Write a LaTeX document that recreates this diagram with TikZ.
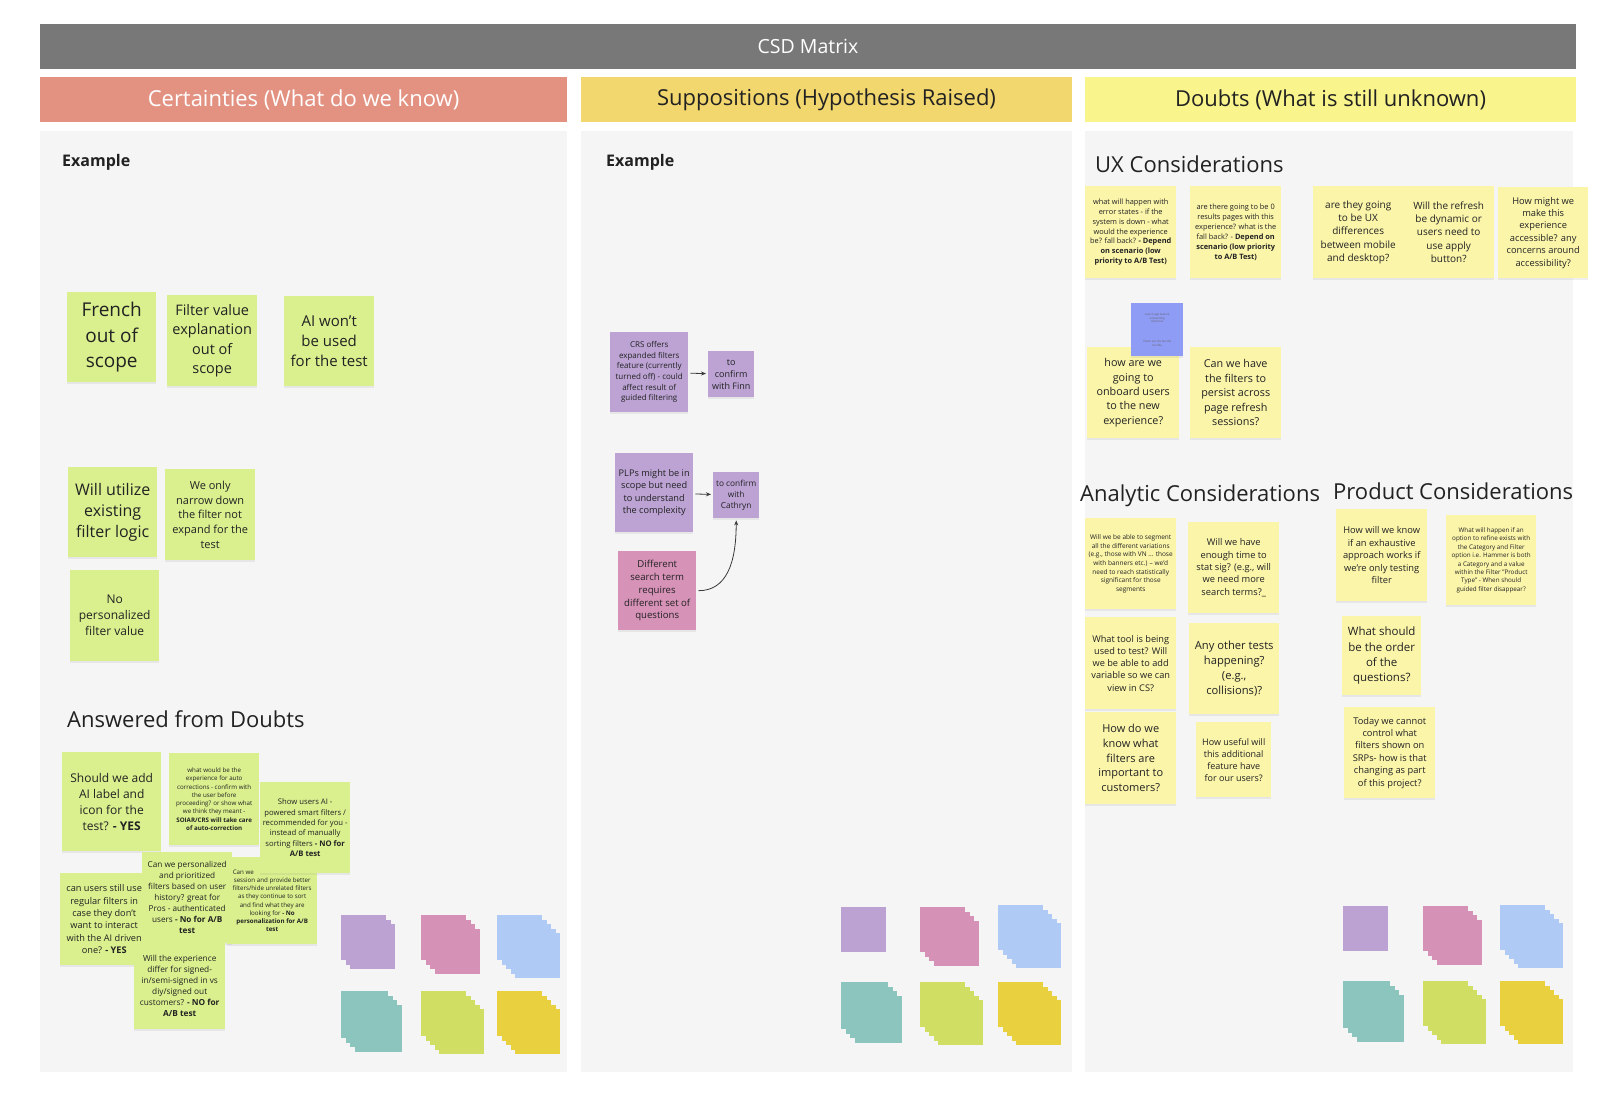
\documentclass[tikz,border=0pt]{standalone}
\usepackage{fontspec}
\setmainfont{Open Sans}
\usetikzlibrary{arrows.meta,shadows}

\definecolor{ink}{RGB}{34,34,34}
\definecolor{barc}{RGB}{120,120,120}
\definecolor{certc}{RGB}{227,146,130}
\definecolor{suppc}{RGB}{242,214,110}
\definecolor{doubc}{RGB}{249,244,140}
\definecolor{panelc}{RGB}{245,245,245}
\definecolor{greenn}{RGB}{218,240,142}
\definecolor{yellown}{RGB}{251,245,170}
\definecolor{purplen}{RGB}{188,163,212}
\definecolor{pinkn}{RGB}{214,146,183}
\definecolor{bluen}{RGB}{143,156,245}
\definecolor{padpurple}{RGB}{187,162,210}
\definecolor{padpink}{RGB}{213,146,182}
\definecolor{padblue}{RGB}{174,202,245}
\definecolor{padteal}{RGB}{140,196,190}
\definecolor{padgreen}{RGB}{208,223,100}
\definecolor{padyellow}{RGB}{233,208,62}

\newcommand\fsz[1]{\fontsize{#1pt}{\dimexpr#1pt*4/3\relax}\selectfont}
% stack of sticky notes: x, y, size, layers, colour
\newcommand\stickypad[5]{%
    \foreach \k in {1,...,#4}
        \fill[#5] ({#1+(\k-1)*4.5},{#2+(\k-1)*4.5}) rectangle +(#3,#3);}

\begin{document}
\begin{tikzpicture}[
    x=1pt, y=-1pt,
    bar/.style={
        fill=barc,
        text=white,
        minimum width=1536pt,
        minimum height=45pt,
        font=\fsz{19.5}
    },
    head/.style={
        minimum height=45pt,
        text=ink,
        font=\fsz{22}
    },
    lbl/.style={anchor=west, inner sep=0pt, text=ink, font=\fsz{22}},
    note/.style={
        anchor=north west,
        align=center,
        inner sep=2pt,
        text=ink,
        drop shadow={shadow xshift=0pt, shadow yshift=-1.5pt, opacity=.12}
    },
    sz/.style 2 args={minimum width=#1pt, minimum height=#2pt},
    gnote/.style={note, fill=greenn},
    ynote/.style={note, fill=yellown},
    pnote/.style={note, fill=purplen},
    knote/.style={note, fill=pinkn},
    arr/.style={-{Stealth[length=5pt,width=4pt]}, line width=0.8pt, draw=ink!90,
        shorten <=2pt, shorten >=2pt}
]
    \fill[white] (0,0) rectangle (1616,1100);
    \useasboundingbox (0,0) rectangle (1616,1100);

    % frame
    \node[bar] (title) at (808,46.5) {CSD Matrix};
    \node[head, fill=certc, text=white, minimum width=527pt] (cert) at (303.5,99.5) {Certainties (What do we know)};
    \node[head, fill=suppc, minimum width=491pt] (supp) at (826.5,99.5) {Suppositions (Hypothesis Raised)};
    \node[head, fill=doubc, minimum width=491pt] (doub) at (1330.5,99.5) {Doubts (What is still unknown)};
    \fill[panelc] (40,131) rectangle (567,1072);
    \fill[panelc] (581,131) rectangle (1072,1072);
    \fill[panelc] (1085,131) rectangle (1573,1072);

    % certainties
    \node[lbl, font=\bfseries\fsz{16}] (exleft) at (62,162) {Example};
    \node[gnote, sz={89}{90}, font=\fsz{19}] (french) at (67,292) {French\\out of\\scope};
    \node[gnote, sz={90}{91}, font=\fsz{14.5}] (filterval) at (167,295) {Filter value\\explanation\\out of\\scope};
    \node[gnote, sz={90}{90}, font=\fsz{15}] (aiwont) at (284,296) {AI won't\\be used\\for the test};
    \node[gnote, sz={89}{90}, font=\fsz{16}] (utilize) at (68,467) {Will utilize\\existing\\filter logic};
    \node[gnote, sz={90}{91}, font=\fsz{11}] (narrow) at (165,469) {We only\\narrow down\\the filter not\\expand for the\\test};
    \node[gnote, sz={89}{91}, font=\fsz{12}] (nopers) at (70,570) {No\\personalized\\filter value};

    \node[lbl] (answered) at (67,719) {Answered from Doubts};
    \node[gnote, sz={99}{99}, font=\fsz{12}] (addai) at (62,752) {Should we add\\AI label and\\icon for the\\test? \textbf{- YES}};
    \node[gnote, sz={90}{92}, font=\fsz{6.2}] (autocorr) at (169,753) {what would be the\\experience for auto\\corrections - confirm with\\the user before\\proceeding? or show what\\we think they meant -\\\textbf{SOIAR/CRS will take care}\\\textbf{of auto-correction}};
    \node[gnote, sz={90}{91}, font=\fsz{8.2}] (personal) at (142,852) {Can we personalized\\and prioritized\\filters based on user\\history? great for\\Pros - authenticated\\users \textbf{- No for A/B}\\\textbf{test}};
    \node[gnote, sz={90}{87}, font=\fsz{6.2}] (session) at (227,857) {Can we \phantom{remember the user}\\session and provide better\\filters/hide unrelated filters\\as they continue to sort\\and find what they are\\looking for \textbf{- No}\\\textbf{personalization for A/B}\\\textbf{test}};
    \node[gnote, sz={90}{91}, font=\fsz{7.7}] (showai) at (260,782) {Show users AI -\\powered smart filters /\\recommended for you -\\instead of manually\\sorting filters \textbf{- NO for}\\\textbf{A/B test}};
    \node[gnote, sz={88}{92}, font=\fsz{9.2}] (canusers) at (60,873) {can users still use\\regular filters in\\case they don't\\want to interact\\with the AI driven\\one? \textbf{- YES}};
    \node[gnote, sz={91}{86}, font=\fsz{8.3}] (signedin) at (134,943) {Will the experience\\differ for signed-\\in/semi-signed in vs\\diy/signed out\\customers? \textbf{- NO for}\\\textbf{A/B test}};

    \stickypad{341}{915}{45}{3}{padpurple}
    \stickypad{421}{915}{45}{4}{padpink}
    \stickypad{497}{915}{45}{5}{padblue}
    \stickypad{341}{991}{47}{4}{padteal}
    \stickypad{421}{991}{45}{5}{padgreen}
    \stickypad{497}{991}{45}{5}{padyellow}

    % suppositions
    \node[lbl, font=\bfseries\fsz{16}] (exmid) at (606,162) {Example};
    \node[pnote, sz={78}{80}, font=\fsz{8}] (crs) at (610,332) {CRS offers\\expanded filters\\feature (currently\\turned off) - could\\affect result of\\guided filtering};
    \node[pnote, sz={46}{46}, font=\fsz{9}] (finn) at (708,351) {to\\confirm\\with Finn};
    \node[pnote, sz={78}{79}, font=\fsz{9.2}] (plps) at (615,453) {PLPs might be in\\scope but need\\to understand\\the complexity};
    \node[pnote, sz={46}{46}, font=\fsz{8.3}] (cathryn) at (713,472) {to confirm\\with\\Cathryn};
    \node[knote, sz={78}{79}, font=\fsz{9.6}] (diffterm) at (618,551) {Different\\search term\\requires\\different set of\\questions};

    \draw[arr] (crs) -- (finn);
    \draw[arr] (plps) -- (cathryn);
    \draw[arr] (diffterm.east) .. controls +(30,0) and +(0,45) .. (cathryn.south);

    \stickypad{841}{907}{45}{1}{padpurple}
    \stickypad{920}{907}{45}{4}{padpink}
    \stickypad{998}{905}{45}{5}{padblue}
    \stickypad{841}{982}{47}{4}{padteal}
    \stickypad{920}{982}{45}{5}{padgreen}
    \stickypad{998}{982}{45}{5}{padyellow}

    % doubts
    \node[lbl] (uxlbl) at (1095,164) {UX Considerations};
    \node[ynote, sz={91}{92}, font=\fsz{7.4}] (errstate) at (1085,186) {what will happen with\\error states - if the\\system is down - what\\would the experience\\be? fall back? \textbf{- Depend}\\\textbf{on scenario (low}\\\textbf{priority to A/B Test)}};
    \node[ynote, sz={91}{92}, font=\fsz{7.4}] (zerores) at (1190,186) {are there going to be 0\\results pages with this\\experience? what is the\\fall back? - \textbf{Depend on}\\\textbf{scenario (low priority}\\\textbf{to A/B Test)}};
    \node[ynote, sz={90}{92}, font=\fsz{10}] (mobile) at (1313,186) {are they going\\to be UX\\differences\\between mobile\\and desktop?};
    \node[ynote, sz={91}{92}, font=\fsz{10}] (refresh) at (1403,186) {Will the refresh\\be dynamic or\\users need to\\use apply\\button?};
    \node[ynote, sz={90}{91}, font=\fsz{9.3}] (access) at (1498,187) {How might we\\make this\\experience\\accessible? any\\concerns around\\accessibility?};
    \node[ynote, sz={92}{91}, font=\fsz{10.8}] (onboard) at (1087,347) {how are we\\going to\\onboard users\\to the new\\experience?};
    \node[ynote, sz={91}{91}, font=\fsz{10.8}] (persist) at (1190,347) {Can we have\\the filters to\\persist across\\page refresh\\sessions?};
    \node[note, fill=bluen, sz={52}{53}, text=ink!70, font=\fsz{2.8}] (refnote) at (1131,303) {search app feature\\onboarding\\reference\\[16pt]Check out the bundle\\bundle};

    \node[lbl] (anlbl) at (1080,496) {Analytic Considerations};
    \node[ynote, sz={91}{91}, font=\fsz{6.5}] (segment) at (1085,518) {Will we be able to segment\\all the different variations\\(e.g., those with VN ... those\\with banners etc.) -- we'd\\need to reach statistically\\significant for those\\segments};
    \node[ynote, sz={91}{91}, font=\fsz{9.3}] (stattime) at (1188,522) {Will we have\\enough time to\\stat sig? (e.g., will\\we need more\\search terms?\_};
    \node[ynote, sz={91}{92}, font=\fsz{9.2}] (tool) at (1085,617) {What tool is being\\used to test? Will\\we be able to add\\variable so we can\\view in CS?};
    \node[ynote, sz={90}{91}, font=\fsz{11.2}] (othertests) at (1189,623) {Any other tests\\happening?\\(e.g.,\\collisions)?};
    \node[ynote, sz={91}{92}, font=\fsz{11}] (knowfilt) at (1085,712) {How do we\\know what\\filters are\\important to\\customers?};
    \node[ynote, sz={75}{75}, font=\fsz{9}] (useful) at (1196,722) {How useful will\\this additional\\feature have\\for our users?};

    \node[lbl] (prodlbl) at (1333,491) {Product Considerations};
    \node[ynote, sz={91}{92}, font=\fsz{9.3}] (exhaust) at (1336,509) {How will we know\\if an exhaustive\\approach works if\\we're only testing\\filter};
    \node[ynote, sz={90}{90}, font=\fsz{6.3}] (refine) at (1446,515) {What will happen if an\\option to refine exists with\\the Category and Filter\\option i.e. Hammer is both\\a Category and a value\\within the Filter "Product\\Type" - When should\\guided filter disappear?};
    \node[ynote, sz={79}{79}, font=\fsz{11.5}] (order) at (1342,616) {What should\\be the order\\of the\\questions?};
    \node[ynote, sz={91}{91}, font=\fsz{9.3}] (srps) at (1344,707) {Today we cannot\\control what\\filters shown on\\SRPs- how is that\\changing as part\\of this project?};

    \stickypad{1343}{906}{45}{1}{padpurple}
    \stickypad{1423}{906}{45}{4}{padpink}
    \stickypad{1500}{905}{45}{5}{padblue}
    \stickypad{1343}{981}{47}{4}{padteal}
    \stickypad{1423}{981}{45}{5}{padgreen}
    \stickypad{1500}{981}{45}{5}{padyellow}
\end{tikzpicture}
\end{document}
